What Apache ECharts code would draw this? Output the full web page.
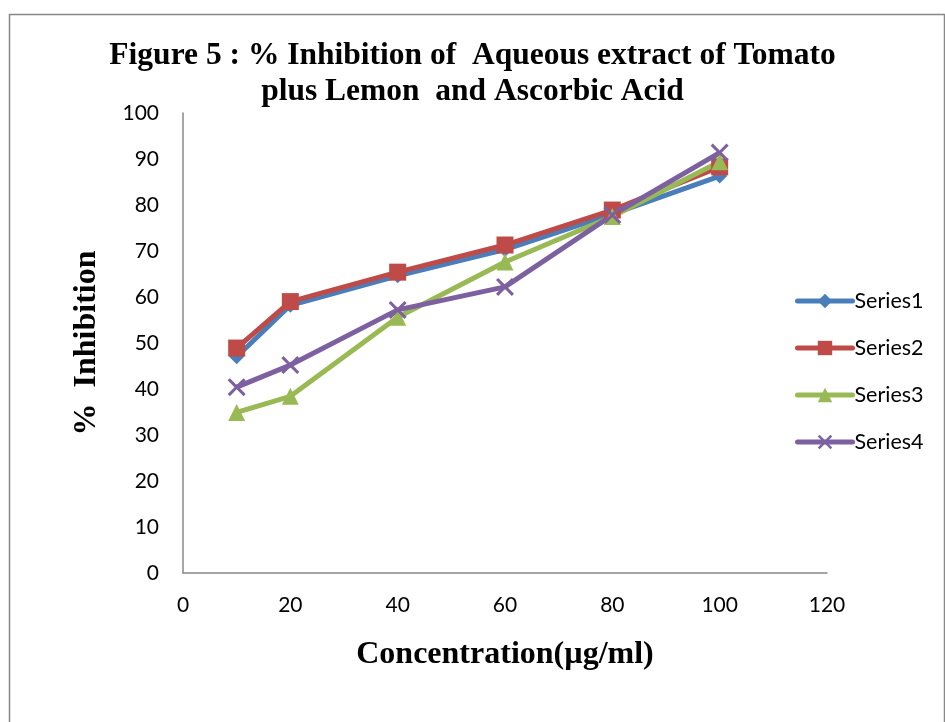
<!DOCTYPE html>
<html>
<head>
<meta charset="utf-8">
<script src="https://cdn.jsdelivr.net/npm/echarts@6/dist/echarts.min.js"></script>
<style>html,body{margin:0;padding:0;background:#fff;}#c{width:945px;height:722px;}</style>
</head>
<body>
<div id="c"></div>
<script>
const concentrations = [10, 20, 40, 60, 80, 100];
const series1 = [47.0, 58.2, 64.6, 70.3, 78.0, 86.3];
const series2 = [48.9, 59.0, 65.4, 71.3, 78.9, 88.3];
const series3 = [34.9, 38.4, 55.6, 67.6, 77.5, 89.4];
const series4 = [40.4, 45.2, 57.2, 62.2, 77.8, 91.4];
const seriesNames = ['Series1', 'Series2', 'Series3', 'Series4'];
const titleText = 'Figure 5 : % Inhibition of  Aqueous extract of Tomato\nplus Lemon  and Ascorbic Acid';
const xName = 'Concentration(µg/ml)';
const yName = '%  Inhibition';

const colors = ['#4A7EBB', '#BE4B48', '#98B954', '#7D60A0'];
const xSym = 'path://M0,1.2L1.2,0L5,3.8L8.8,0L10,1.2L6.2,5L10,8.8L8.8,10L5,6.2L1.2,10L0,8.8L3.8,5Z';
const symbols = ['diamond', 'rect', 'triangle', xSym];
const symbolSizes = [15, 17, 17, 18];
const allData = [series1, series2, series3, series4];

const chart = echarts.init(document.getElementById('c'), null, {renderer: 'canvas'});
chart.setOption({
  animation: false,
  backgroundColor: '#fff',
  graphic: [{
    type: 'rect', left: 7, top: 12,
    shape: {width: 935, height: 730},
    style: {fill: 'none', stroke: '#888', lineWidth: 1.5}
  }],
  title: {
    text: titleText,
    left: 'center', top: 33,
    textStyle: {fontFamily: 'Liberation Serif', fontWeight: 'bold', fontSize: 31.5, lineHeight: 36, color: '#000'}
  },
  grid: {left: 183, right: 118, top: 113, bottom: 149, containLabel: false},
  legend: {
    orient: 'vertical', left: 790, top: 285,
    itemWidth: 55, itemHeight: 18, itemGap: 25,
    lineStyle: {width: 5, cap: 'round'},
    textStyle: {fontFamily: 'Lato', fontSize: 21.5, color: '#000', padding: [0, 0, 0, -3]},
    data: seriesNames
  },
  xAxis: {
    type: 'value', min: 0, max: 120, interval: 20,
    name: xName, nameLocation: 'middle', nameGap: 66,
    nameTextStyle: {fontFamily: 'Liberation Serif', fontWeight: 'bold', fontSize: 32, color: '#000'},
    axisLine: {show: true, lineStyle: {color: '#888', width: 1.5}},
    axisTick: {show: false},
    splitLine: {show: false},
    axisLabel: {fontFamily: 'Lato', fontSize: 21, color: '#000', margin: 22}
  },
  yAxis: {
    type: 'value', min: 0, max: 100, interval: 10,
    name: yName, nameLocation: 'middle', nameGap: 80,
    nameTextStyle: {fontFamily: 'Liberation Serif', fontWeight: 'bold', fontSize: 32, color: '#000'},
    axisLine: {show: true, lineStyle: {color: '#888', width: 1.5}},
    axisTick: {show: false},
    splitLine: {show: false},
    axisLabel: {fontFamily: 'Lato', fontSize: 21, color: '#000', margin: 24}
  },
  series: allData.map((d, i) => ({
    name: seriesNames[i],
    type: 'line',
    data: concentrations.map((x, j) => [x, d[j]]),
    symbol: symbols[i],
    symbolSize: symbolSizes[i],
    showAllSymbol: true,
    color: colors[i],
    lineStyle: {width: 5, color: colors[i]},
    itemStyle: {color: colors[i]}
  }))
});
</script>
</body>
</html>
